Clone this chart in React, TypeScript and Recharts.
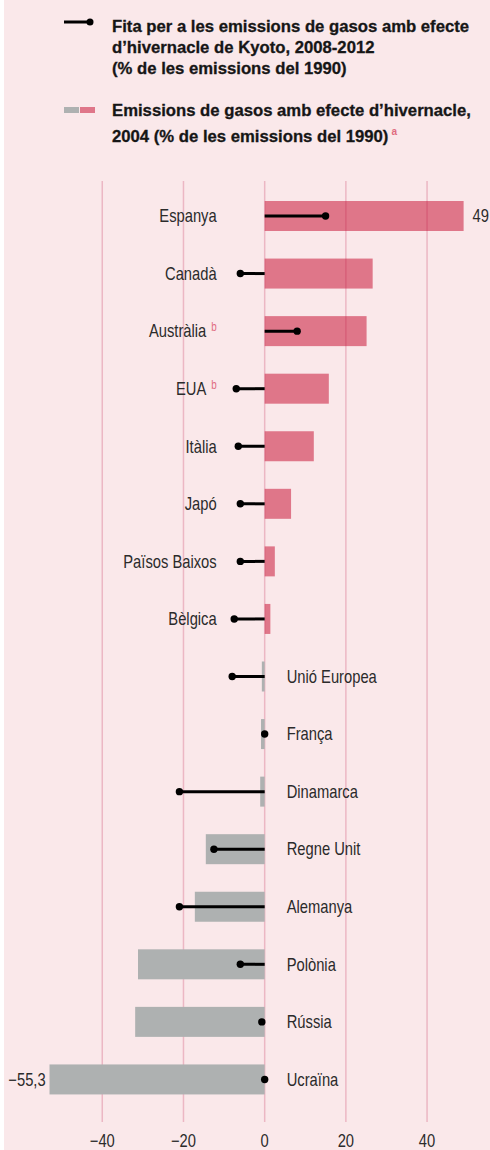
import React from 'react';
import { ComposedChart, Bar, XAxis, YAxis, CartesianGrid, LabelList } from 'recharts';

const countries = ['Espanya', 'Canadà', 'Austràlia', 'EUA', 'Itàlia', 'Japó', 'Països Baixos', 'Bèlgica', 'Unió Europea', 'França', 'Dinamarca', 'Regne Unit', 'Alemanya', 'Polònia', 'Rússia', 'Ucraïna'];
const footnotes = ['', '', 'b', 'b', '', '', '', '', '', '', '', '', '', '', '', ''];
const emissions2004 = [49, 26.6, 25.1, 15.8, 12.1, 6.5, 2.5, 1.4, -0.7, -0.9, -1.1, -14.5, -17.2, -31.2, -31.9, -55.3];
const kyotoTargets = [15, -6, 8, -7, -6.5, -6, -6, -7.5, -8, 0, -21, -12.5, -21, -6, -0.7, 0];
const valueLabels = ['49', '', '', '', '', '', '', '', '', '', '', '', '', '', '', '−55,3'];
const xTicks = [-40, -20, 0, 20, 40];
const xDomain = [-53, 55.5];

const legendTarget = ['Fita per a les emissions de gasos amb efecte', 'd’hivernacle de Kyoto, 2008-2012', '(% de les emissions del 1990)'];
const legendEmissions = ['Emissions de gasos amb efecte d’hivernacle,', '2004 (% de les emissions del 1990)'];

// increases drawn in pink, decreases in grey
const data = countries.map((name, i) => ({
  name,
  increase: emissions2004[i] >= 0 ? emissions2004[i] : null,
  decrease: emissions2004[i] < 0 ? emissions2004[i] : null,
  target: kyotoTargets[i],
  label: valueLabels[i],
}));

const SANS = "'Liberation Sans', Arial, sans-serif";
const BG = '#fae8ea';
const PINK = '#df7689';
const GREY = '#aeb1b1';
const GRID = 'rgb(190,22,70)';
const ACCENT = '#e06c80';
const TEXT = '#2b2b2b';

const NarrowText = ({ x, y, anchor, dy = '0.35em', children }: any) => (
  <g transform={`translate(${x},${y}) scale(0.82,1)`}>
    <text x={0} y={0} dy={dy} textAnchor={anchor} fontFamily={SANS} fontSize={18} fill={TEXT}>
      {children}
    </text>
  </g>
);

const ends = (props: any, v: number) => {
  const vb = props.viewBox || props;
  const a = vb.x;
  const b = vb.x + vb.width;
  const zero = v >= 0 ? Math.min(a, b) : Math.max(a, b);
  const end = v >= 0 ? Math.max(a, b) : Math.min(a, b);
  return { zero, end, cy: vb.y + vb.height / 2 };
};

const BarShape = (color: string) => (props: any) => {
  const v = props.value;
  if (v == null) return null;
  const val = Array.isArray(v) ? v[1] : v;
  const { zero, end } = ends(props, val);
  return (
    <rect x={Math.min(zero, end)} y={props.y} width={Math.abs(end - zero)} height={props.height} fill={color} />
  );
};

const TargetShape = (props: any) => {
  const t = props.payload.target;
  const { zero, end, cy } = ends(props, t);
  return (
    <g>
      <line x1={zero} x2={end} y1={cy} y2={cy} stroke="#000" strokeWidth={3} />
      <circle cx={end} cy={cy} r={3.7} fill="#000" />
    </g>
  );
};

// attached to the target series (one entry per country): zero found from the target rect
const NameLabel = (props: any) => {
  const i = props.index;
  const v = emissions2004[i];
  const { zero, cy } = ends(props, kyotoTargets[i]);
  const pos = v >= 0;
  return (
    <NarrowText x={pos ? zero - 48 : zero + 22} y={cy} anchor={pos ? 'end' : 'start'}>
      {countries[i]}
      {footnotes[i] ? (
        <tspan dx={6} dy={-6} fontSize={12} fill={ACCENT}>{footnotes[i]}</tspan>
      ) : null}
    </NarrowText>
  );
};

const ValueLabel = (positive: boolean) => (props: any) => {
  const txt = props.value;
  if (!txt) return null;
  const { end, cy } = ends(props, positive ? 1 : -1);
  return (
    <NarrowText x={positive ? end + 9 : end + 5.5} y={cy} anchor={positive ? 'start' : 'end'}>
      {txt}
    </NarrowText>
  );
};

const AxisTick = (props: any) => (
  <NarrowText x={props.x} y={props.y} anchor="middle" dy="0.71em">
    {String(props.payload.value).replace('-', '−')}
  </NarrowText>
);

const legendText: React.CSSProperties = {
  position: 'absolute',
  left: 112,
  fontFamily: SANS,
  fontWeight: 700,
  fontSize: 16.7,
  lineHeight: '21px',
  color: '#161616',
  whiteSpace: 'nowrap',
  WebkitTextStroke: '0.3px #161616',
};

const yPad = { top: 6, bottom: 14 };

export default function App() {
  return (
    <div style={{ position: 'absolute', left: 0, top: 0, width: 490, height: 1150, background: '#fff', overflow: 'hidden' }}>
      <div style={{ position: 'absolute', left: 4, top: 0, width: 486, height: 1150, background: BG }} />
      <svg style={{ position: 'absolute', left: 0, top: 0 }} width={110} height={130}>
        <line x1={64} x2={90} y1={22} y2={22} stroke="#000" strokeWidth={3} />
        <circle cx={90} cy={22} r={3.5} fill="#000" />
        <rect x={64} y={107} width={15} height={6} fill={GREY} />
        <rect x={80} y={107} width={15} height={6} fill={PINK} />
      </svg>
      <div style={{ ...legendText, top: 16 }}>
        {legendTarget.map((l, k) => (<div key={k}>{l}</div>))}
      </div>
      <div style={{ ...legendText, top: 100 }}>
        {legendEmissions.map((l, k) => (
          <div key={k}>
            {l}
            {k === legendEmissions.length - 1 ? (
              <sup style={{ fontSize: 10, color: ACCENT, marginLeft: 3, WebkitTextStroke: '0px' }}>a</sup>
            ) : null}
          </div>
        ))}
      </div>
      <div style={{ position: 'absolute', left: 0, top: 0 }}>
        <ComposedChart
          layout="vertical"
          width={490}
          height={1150}
          data={data}
          margin={{ top: 181, right: 0, bottom: 0, left: 49.5 }}
        >
          <XAxis
            type="number"
            domain={xDomain}
            ticks={xTicks}
            allowDataOverflow
            axisLine={false}
            tickLine={false}
            height={28}
            tickMargin={6}
            tick={AxisTick}
          />
          <YAxis yAxisId="p" type="category" dataKey="name" hide padding={yPad} />
          <YAxis yAxisId="g" type="category" dataKey="name" hide padding={yPad} />
          <YAxis yAxisId="t" type="category" dataKey="name" hide padding={yPad} />
          <Bar yAxisId="p" dataKey="increase" barSize={30} shape={BarShape(PINK)} isAnimationActive={false} zIndex={300}>
            <LabelList dataKey="label" content={ValueLabel(true)} />
          </Bar>
          <CartesianGrid
            yAxisId="p"
            horizontal={false}
            vertical
            stroke={GRID}
            strokeOpacity={0.23}
            strokeWidth={1.5}
            syncWithTicks
            zIndex={350}
          />
          <Bar yAxisId="g" dataKey="decrease" barSize={30} shape={BarShape(GREY)} isAnimationActive={false} zIndex={360}>
            <LabelList dataKey="label" content={ValueLabel(false)} />
          </Bar>
          <Bar yAxisId="t" dataKey="target" barSize={30} shape={TargetShape} isAnimationActive={false} zIndex={370}>
            <LabelList dataKey="target" content={NameLabel} />
          </Bar>
        </ComposedChart>
      </div>
    </div>
  );
}
